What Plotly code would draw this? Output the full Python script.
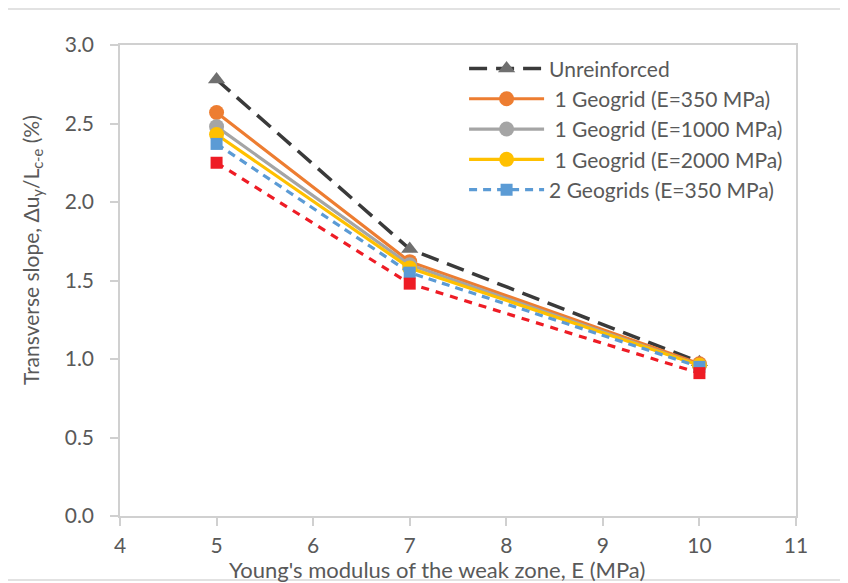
import plotly.graph_objects as go

x_vals = [5, 7, 10]
unreinforced = [2.78, 1.70, 0.98]
geo1_350 = [2.57, 1.62, 0.97]
geo1_1000 = [2.48, 1.60, 0.96]
geo1_2000 = [2.43, 1.58, 0.96]
geo2_350 = [2.37, 1.55, 0.95]
geo2_red = [2.25, 1.48, 0.91]

x_ticks = [4, 5, 6, 7, 8, 9, 10, 11]
y_ticks = [0.0, 0.5, 1.0, 1.5, 2.0, 2.5, 3.0]

FONT = "Lato"
TXT = "#595959"

fig = go.Figure()

def add(name, y, color, dash, symbol, size, width, mcolor=None, show=True, group="g"):
    fig.add_trace(go.Scatter(
        x=x_vals, y=y, name=name, mode="lines+markers",
        line=dict(color=color, dash=dash, width=width),
        marker=dict(symbol=symbol, size=size, color=mcolor or color, line=dict(width=0)),
        showlegend=show, legendgroup=group,
    ))

add("Unreinforced", unreinforced, "#3a3a3a", "18px,9px", "triangle-up", 15, 3.5, mcolor="#6f6f6f", group="a")
add(" 1 Geogrid (E=350 MPa)", geo1_350, "#ED7D31", "solid", "circle", 15, 3.2, group="b")
add(" 1 Geogrid (E=1000 MPa)", geo1_1000, "#A5A5A5", "solid", "circle", 15, 3.2, group="c")
add(" 1 Geogrid (E=2000 MPa)", geo1_2000, "#FFC000", "solid", "circle", 15, 3.2, group="d")
add("2 Geogrids (E=350 MPa)", geo2_350, "#5B9BD5", "8px,6px", "square", 12, 3.2, group="e")
add("2 Geogrids (red)", geo2_red, "#EE1C25", "8px,7px", "square", 12, 3.2, show=False, group="f")

axis_common = dict(
    showgrid=False, zeroline=False, showline=True, linecolor="#d0d0d0", linewidth=1.5,
    mirror=True, ticks="outside", ticklen=8, tickcolor="#d0d0d0", tickwidth=1.5,
    tickfont=dict(family=FONT, size=21, color=TXT), automargin=False,
)

fig.update_layout(
    width=848, height=583,
    margin=dict(l=112, r=60, t=37, b=75),
    paper_bgcolor="white", plot_bgcolor="white",
    font=dict(family=FONT, color=TXT),
    xaxis=dict(range=[4, 11], tickvals=x_ticks, ticktext=[str(v) for v in x_ticks],
               ticklabelstandoff=2, **axis_common),
    yaxis=dict(range=[0, 3.0], tickvals=y_ticks, ticktext=[f"{v:.1f}" for v in y_ticks],
               ticklabelstandoff=12, **axis_common),
    legend=dict(x=0.509, y=0.993, xanchor="left", yanchor="top",
                font=dict(family=FONT, size=21, color=TXT),
                bgcolor="rgba(255,255,255,0)", traceorder="grouped",
                tracegroupgap=0, itemwidth=75),
    annotations=[
        dict(text="Young's modulus of the weak zone, E (MPa)", xref="paper", yref="paper",
             x=0.469, y=-0.1135, xanchor="center", yanchor="middle", showarrow=False,
             font=dict(family=FONT, size=22, color=TXT)),
        dict(text="Transverse slope, Δu<sub>y</sub>/L<sub>c-e</sub> (%)", xref="paper", yref="paper",
             x=-0.1302, y=0.5648, xanchor="center", yanchor="middle", showarrow=False,
             textangle=-90, font=dict(family=FONT, size=21, color=TXT)),
    ],
    shapes=[dict(type="rect", xref="paper", yref="paper",
                 x0=-0.170, x1=1.083, y0=-0.1359, y1=1.0764,
                 line=dict(color="#d9d9d9", width=1.5), layer="below")],
)

fig.write_html("out.html")
